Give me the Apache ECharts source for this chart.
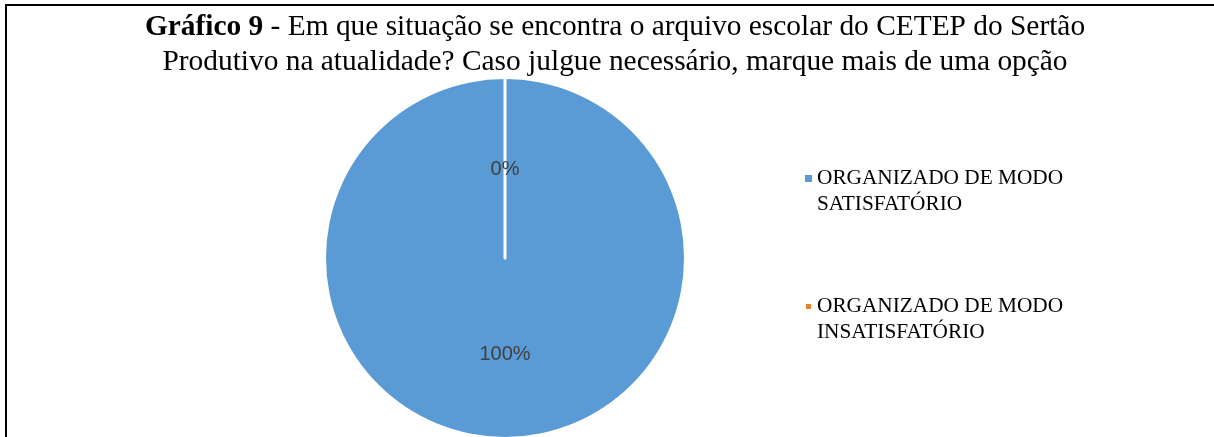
<!DOCTYPE html>
<html>
<head>
    <meta charset="utf-8">
    <title>Gráfico 9</title>
    <script src="https://cdn.jsdelivr.net/npm/echarts@6/dist/echarts.min.js"></script>
    <style>
        html, body { margin: 0; padding: 0; background: #fff; }
        #chart { width: 1214px; height: 437px; }
    </style>
</head>
<body>
    <div id="chart"></div>
    <script type="text/javascript">
        // dados
        var categorias = ['ORGANIZADO DE MODO\nSATISFATÓRIO', 'ORGANIZADO DE MODO\nINSATISFATÓRIO'];
        var valores = [100, 0];
        var cores = ['#5B9BD5', '#ED7D31'];

        var serif = '"Liberation Serif", "Times New Roman", serif';

        var dados = categorias.map(function (nome, i) {
            var item = { name: nome, value: valores[i], itemStyle: { color: cores[i] } };
            if (valores[i] === 0) {
                // fatia vazia: so aparece a borda branca
                item.itemStyle.borderColor = '#fff';
                item.itemStyle.borderWidth = 3;
            }
            return item;
        });

        var chart = echarts.init(document.getElementById('chart'));
        chart.setOption({
            animation: false,
            title: {
                text: '{b|Gráfico 9} - Em que situação se encontra o arquivo escolar do CETEP do Sertão\nProdutivo na atualidade? Caso julgue necessário, marque mais de uma opção',
                left: 615,
                textAlign: 'center',
                top: 10,
                padding: 0,
                textStyle: {
                    fontFamily: serif,
                    fontSize: 29.4,
                    fontWeight: 'normal',
                    color: '#000',
                    lineHeight: 35,
                    rich: {
                        b: { fontFamily: serif, fontSize: 29.4, fontWeight: 'bold', color: '#000', lineHeight: 35 }
                    }
                }
            },
            legend: {
                orient: 'vertical',
                left: 804,
                top: 139.5,
                itemWidth: 7,
                itemHeight: 7,
                itemGap: 50,
                icon: 'rect',
                padding: 0,
                data: categorias,
                // linha vazia em cima para o marcador ficar na primeira linha
                formatter: function (name) { return '\n' + name; },
                textStyle: {
                    fontFamily: serif,
                    fontSize: 21.3,
                    color: '#000',
                    lineHeight: 26
                }
            },
            graphic: [{
                type: 'rect',
                shape: { x: 6, y: 5, width: 1400, height: 600 },
                style: { fill: 'none', stroke: '#000', lineWidth: 2 },
                silent: true
            }],
            series: [{
                type: 'pie',
                center: [505, 258],
                radius: 179,
                startAngle: 90,
                clockwise: true,
                avoidLabelOverlap: false,
                label: {
                    show: true,
                    position: 'inside',
                    formatter: '{p|{d}%}',
                    rich: {
                        p: {
                            fontFamily: '"Liberation Sans", Arial, sans-serif',
                            fontSize: 20,
                            color: '#404040',
                            padding: [8, 0, 0, 0]
                        }
                    }
                },
                labelLine: { show: false },
                emphasis: { disabled: true },
                data: dados
            }]
        });
    </script>
</body>
</html>
